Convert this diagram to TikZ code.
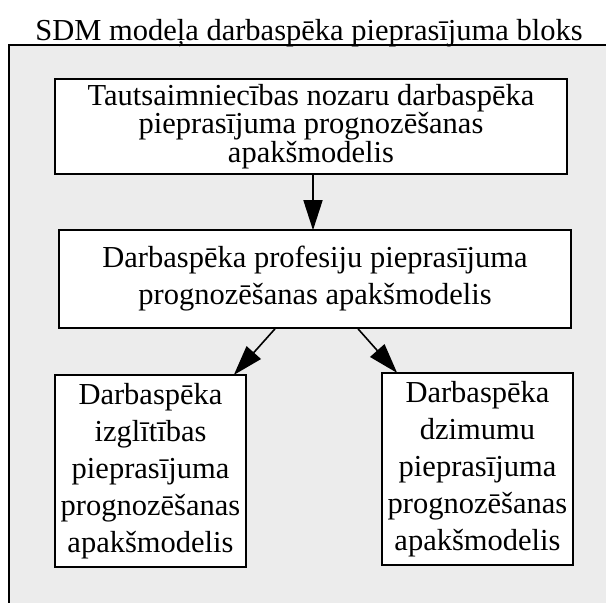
\documentclass[tikz,border=0pt]{standalone}
\usepackage{fontspec}
\setmainfont{Liberation Serif}
\usetikzlibrary{arrows.meta}
\definecolor{panelgray}{HTML}{ECECEC}
\begin{document}
\begin{tikzpicture}[x=1pt,y=-1pt,
  modelbox/.style={draw=black, line width=1.6pt, fill=white, inner sep=0pt,
    align=center, font=\fontsize{30.5}{37}\selectfont},
  flow/.style={line width=1.6pt, -{Triangle[length=30pt,width=19pt]}, shorten >=-1pt}]
\useasboundingbox (0,0) rectangle (606,603);
% panel
\fill[panelgray] (9,45) rectangle (606,603);
\draw[line width=1.8pt] (9,604) -- (9,45) -- (607,45);
\node[font=\fontsize{30.5}{35}\selectfont, anchor=base] (title) at (309,40) {SDM modeļa darbaspēka pieprasījuma bloks};
% blocks
\node[modelbox, minimum width=512pt, minimum height=95pt, font=\fontsize{30.5}{28.5}\selectfont] (b1) at (311,126.5)
  {Tautsaimniecības nozaru darbaspēka\\pieprasījuma prognozēšanas\\apakšmodelis};
\node[modelbox, minimum width=512pt, minimum height=98pt] (b2) at (315,279)
  {Darbaspēka profesiju pieprasījuma\\prognozēšanas apakšmodelis};
\node[modelbox, minimum width=191pt, minimum height=192pt] (b3) at (150.5,471)
  {Darbaspēka\\izglītības\\pieprasījuma\\prognozēšanas\\apakšmodelis};
\node[modelbox, minimum width=191pt, minimum height=192pt] (b4) at (477.5,469)
  {Darbaspēka\\dzimumu\\pieprasījuma\\prognozēšanas\\apakšmodelis};
% connectors
\draw[flow] ([xshift=2pt]b1.south) -- ([xshift=-2pt]b2.north);
\draw[flow] ([xshift=-40pt]b2.south) -- ([xshift=84pt]b3.north);
\draw[flow] ([xshift=43pt]b2.south) -- ([xshift=-81pt]b4.north);
\end{tikzpicture}
\end{document}
